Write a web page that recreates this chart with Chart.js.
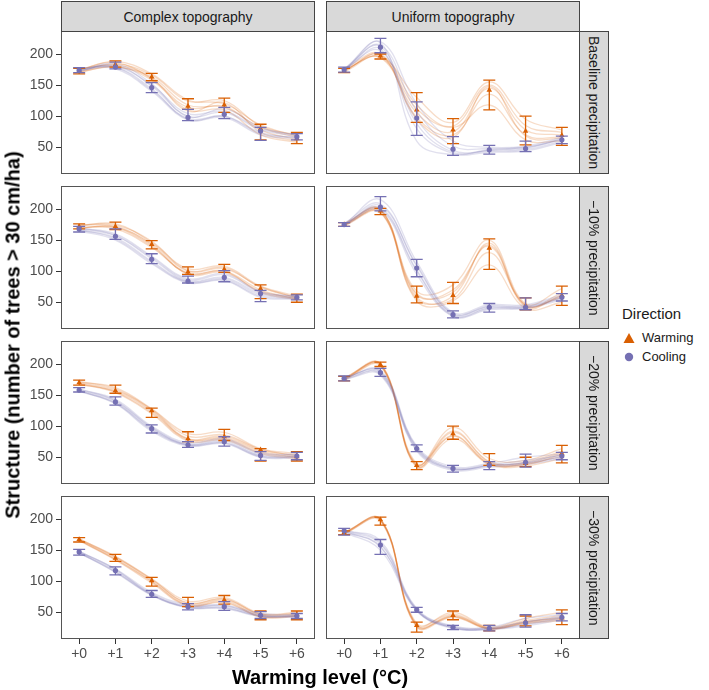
<!DOCTYPE html>
<html>
<head>
<meta charset="utf-8">
<script src="https://cdn.jsdelivr.net/npm/chart.js@4.4.0/dist/chart.umd.min.js"></script>
<style>
  body { margin: 0; background: #fff; font-family: "Liberation Sans", Arial, sans-serif; }
  #wrap { position: relative; width: 709px; height: 690px; overflow: hidden; }
  canvas { position: absolute; }
  .strip { position: absolute; background: #d9d9d9; border: 1px solid #444; box-sizing: border-box;
           color: #1a1a1a; font-size: 14px; display: flex; align-items: center; justify-content: center; }
  .side { writing-mode: vertical-rl; }
  .title { position: absolute; font-weight: bold; font-size: 20px; color: #000; white-space: nowrap; }
  #ytitle { left: 13px; top: 335px; transform: translate(-50%, -50%) rotate(-90deg); }
  #xtitle { left: 320px; top: 677px; transform: translate(-50%, -50%); }
  #legend { position: absolute; left: 622px; top: 305px; color: #1a1a1a; }
  #legend .lt { font-size: 15px; margin-bottom: 6px; }
  #legend .li { display: flex; align-items: center; font-size: 13px; height: 19px; }
  #legend svg { margin-right: 6px; }
</style>
</head>
<body>
<div id="wrap"></div>
<script>
// axes
const xValues = [0, 1, 2, 3, 4, 5, 6];
const xLabels = ['+0', '+1', '+2', '+3', '+4', '+5', '+6'];
const yTicks = [50, 100, 150, 200];
const topographies = ['Complex topography', 'Uniform topography'];
const precipLabels = ['Baseline precipitation', '\u221210% precipitation', '\u221220% precipitation', '\u221230% precipitation'];

// Complex topography, baseline precipitation
const complexBaseWarm = [173, 183, 163, 116, 118, 80, 64];
const complexBaseWarmLo = [168, 179, 157, 111, 106, 62, 56];
const complexBaseWarmHi = [177, 189, 169, 128, 129, 87, 74];
const complexBaseCool = [174, 179, 146, 98, 103, 76, 67];
const complexBaseCoolLo = [170, 176, 138, 93, 96, 61, 62];
const complexBaseCoolHi = [178, 187, 154, 111, 114, 82, 72];
const complexBaseWarmReps = [
  [172, 184, 166, 124, 125, 84, 70],
  [175, 186, 160, 114, 116, 78, 62],
  [170, 180, 158, 110, 110, 70, 58],
  [174, 188, 168, 126, 120, 86, 68],
  [176, 182, 163, 118, 114, 82, 66],
  [171, 179, 161, 108, 122, 74, 60]
];
const complexBaseCoolReps = [
  [174, 180, 150, 104, 108, 80, 70],
  [176, 178, 142, 96, 100, 72, 66],
  [172, 182, 148, 100, 106, 78, 68],
  [175, 176, 140, 94, 98, 70, 64],
  [173, 184, 152, 99, 112, 82, 69],
  [177, 179, 144, 95, 100, 74, 65]
];

// Uniform topography, baseline precipitation
const uniformBaseWarm = [173, 197, 110, 78, 142, 76, 69];
const uniformBaseWarmLo = [170, 192, 90, 56, 110, 54, 53];
const uniformBaseWarmHi = [177, 200, 138, 96, 158, 100, 82];
const uniformBaseCool = [175, 211, 97, 47, 46, 48, 62];
const uniformBaseCoolLo = [171, 202, 69, 37, 39, 43, 56];
const uniformBaseCoolHi = [179, 225, 123, 67, 53, 60, 68];
const uniformBaseWarmReps = [
  [174, 196, 130, 90, 155, 95, 78],
  [172, 199, 118, 84, 150, 85, 74],
  [175, 194, 105, 75, 145, 78, 70],
  [173, 198, 98, 70, 135, 70, 66],
  [171, 195, 112, 82, 118, 62, 60],
  [176, 200, 95, 66, 148, 68, 64]
];
const uniformBaseCoolReps = [
  [175, 220, 120, 60, 50, 52, 66],
  [174, 214, 108, 52, 48, 50, 64],
  [176, 205, 95, 45, 44, 46, 60],
  [173, 208, 80, 40, 42, 44, 58],
  [177, 212, 88, 42, 46, 50, 62],
  [174, 218, 60, 38, 45, 48, 63]
];

// Complex topography, -10% precipitation
const complex10Warm = [172, 172, 143, 99, 103, 72, 57];
const complex10WarmLo = [168, 167, 136, 95, 98, 56, 50];
const complex10WarmHi = [176, 179, 149, 107, 111, 78, 63];
const complex10Cool = [168, 156, 119, 84, 90, 64, 58];
const complex10CoolLo = [163, 151, 112, 81, 83, 51, 54];
const complex10CoolHi = [172, 168, 128, 92, 101, 69, 62];
const complex10WarmReps = [
  [173, 176, 146, 104, 108, 76, 60],
  [170, 170, 140, 96, 100, 70, 55],
  [175, 174, 148, 101, 106, 74, 58],
  [171, 168, 138, 97, 100, 66, 54],
  [174, 172, 144, 100, 104, 75, 57],
  [169, 171, 142, 95, 98, 68, 56]
];
const complex10CoolReps = [
  [169, 160, 124, 88, 96, 67, 60],
  [167, 152, 114, 82, 86, 60, 56],
  [170, 158, 122, 86, 94, 66, 59],
  [166, 154, 116, 83, 88, 62, 57],
  [168, 157, 120, 84, 90, 64, 58],
  [165, 150, 112, 81, 85, 58, 55]
];

// Uniform topography, -10% precipitation
const uniform10Warm = [175, 197, 60, 61, 137, 44, 61];
const uniform10WarmLo = [172, 191, 49, 48, 103, 38, 45];
const uniform10WarmHi = [178, 201, 76, 82, 152, 57, 76];
const uniform10Cool = [175, 203, 105, 30, 42, 42, 58];
const uniform10CoolLo = [172, 197, 91, 25, 34, 38, 52];
const uniform10CoolHi = [178, 220, 119, 36, 48, 57, 64];
const uniform10WarmReps = [
  [175, 198, 68, 78, 150, 48, 72],
  [174, 196, 55, 60, 145, 44, 65],
  [176, 199, 62, 70, 140, 42, 62],
  [173, 194, 58, 55, 130, 46, 58],
  [177, 200, 52, 52, 110, 40, 50],
  [175, 195, 64, 66, 142, 45, 60]
];
const uniform10CoolReps = [
  [175, 215, 115, 34, 46, 46, 62],
  [174, 205, 110, 31, 44, 44, 60],
  [176, 200, 100, 28, 40, 42, 56],
  [173, 198, 95, 27, 38, 40, 54],
  [177, 208, 108, 32, 43, 43, 58],
  [175, 202, 102, 29, 41, 41, 57]
];

// Complex topography, -20% precipitation
const complex20Warm = [170, 157, 125, 80, 83, 62, 51];
const complex20WarmLo = [166, 153, 114, 75, 77, 44, 44];
const complex20WarmHi = [174, 166, 129, 91, 95, 64, 59];
const complex20Cool = [158, 139, 96, 70, 75, 53, 52];
const complex20CoolLo = [155, 134, 89, 66, 68, 45, 46];
const complex20CoolHi = [162, 147, 102, 75, 83, 59, 58];
const complex20WarmReps = [
  [171, 162, 128, 88, 90, 64, 56],
  [169, 155, 122, 78, 80, 58, 49],
  [172, 160, 127, 84, 86, 63, 52],
  [168, 154, 120, 76, 78, 56, 47],
  [170, 158, 126, 80, 84, 62, 53],
  [167, 156, 124, 79, 82, 60, 50]
];
const complex20CoolReps = [
  [159, 143, 100, 73, 80, 57, 55],
  [157, 136, 92, 68, 72, 50, 49],
  [160, 141, 98, 71, 78, 55, 54],
  [156, 137, 94, 69, 73, 51, 50],
  [158, 140, 97, 70, 76, 53, 52],
  [157, 138, 95, 70, 74, 52, 51]
];

// Uniform topography, -20% precipitation
const uniform20Warm = [176, 199, 37, 88, 41, 40, 56];
const uniform20WarmLo = [173, 196, 30, 79, 37, 35, 41];
const uniform20WarmHi = [180, 203, 43, 100, 56, 50, 69];
const uniform20Cool = [177, 186, 64, 32, 37, 42, 52];
const uniform20CoolLo = [173, 180, 59, 26, 30, 34, 46];
const uniform20CoolHi = [181, 193, 70, 37, 43, 55, 58];
const uniform20WarmReps = [
  [176, 200, 38, 98, 48, 45, 64],
  [175, 198, 35, 90, 42, 40, 58],
  [177, 201, 40, 85, 40, 38, 55],
  [174, 197, 34, 80, 38, 36, 48],
  [178, 199, 38, 92, 43, 42, 60],
  [176, 200, 36, 84, 39, 39, 52]
];
const uniform20CoolReps = [
  [177, 190, 68, 35, 40, 50, 55],
  [176, 184, 62, 31, 36, 40, 50],
  [178, 188, 66, 33, 38, 45, 53],
  [175, 182, 60, 29, 34, 38, 48],
  [179, 187, 65, 32, 37, 42, 54],
  [177, 185, 63, 31, 36, 41, 51]
];

// Complex topography, -30% precipitation
const complex30Warm = [167, 137, 101, 63, 70, 45, 46];
const complex30WarmLo = [163, 132, 92, 59, 63, 38, 38];
const complex30WarmHi = [170, 143, 106, 74, 77, 52, 52];
const complex30Cool = [147, 117, 79, 59, 59, 45, 44];
const complex30CoolLo = [142, 110, 74, 54, 53, 40, 40];
const complex30CoolHi = [151, 123, 85, 64, 67, 51, 48];
const complex30WarmReps = [
  [168, 140, 104, 68, 74, 48, 50],
  [166, 135, 99, 61, 67, 43, 44],
  [167, 138, 102, 65, 72, 46, 47],
  [165, 134, 97, 60, 66, 42, 43],
  [168, 139, 103, 64, 71, 47, 48],
  [166, 136, 100, 62, 69, 44, 45]
];
const complex30CoolReps = [
  [148, 120, 82, 62, 62, 48, 46],
  [146, 114, 77, 57, 56, 43, 42],
  [147, 118, 80, 60, 60, 46, 45],
  [145, 115, 78, 58, 57, 44, 43],
  [148, 119, 79, 59, 61, 45, 44],
  [146, 116, 78, 58, 58, 44, 44]
];

// Uniform topography, -30% precipitation
const uniform30Warm = [178, 199, 29, 45, 24, 35, 41];
const uniform30WarmLo = [175, 190, 18, 38, 20, 28, 30];
const uniform30WarmHi = [181, 203, 34, 52, 29, 44, 54];
const uniform30Cool = [181, 158, 54, 26, 24, 33, 42];
const uniform30CoolLo = [174, 143, 50, 22, 20, 26, 36];
const uniform30CoolHi = [185, 167, 58, 29, 29, 46, 48];
const uniform30WarmReps = [
  [178, 200, 30, 50, 26, 40, 50],
  [177, 198, 27, 44, 24, 34, 42],
  [179, 199, 32, 47, 25, 37, 45],
  [176, 197, 26, 42, 23, 32, 36],
  [178, 200, 29, 45, 24, 35, 40],
  [177, 199, 28, 43, 23, 33, 38]
];
const uniform30CoolReps = [
  [182, 165, 56, 28, 26, 40, 46],
  [180, 155, 53, 25, 23, 30, 40],
  [181, 160, 55, 27, 25, 35, 44],
  [179, 150, 52, 24, 22, 28, 38],
  [182, 162, 54, 26, 24, 34, 42],
  [180, 156, 53, 25, 23, 31, 41]
];

const panels = [
  { row: 0, col: 0, warm: [complexBaseWarm, complexBaseWarmLo, complexBaseWarmHi, complexBaseWarmReps], cool: [complexBaseCool, complexBaseCoolLo, complexBaseCoolHi, complexBaseCoolReps] },
  { row: 0, col: 1, warm: [uniformBaseWarm, uniformBaseWarmLo, uniformBaseWarmHi, uniformBaseWarmReps], cool: [uniformBaseCool, uniformBaseCoolLo, uniformBaseCoolHi, uniformBaseCoolReps] },
  { row: 1, col: 0, warm: [complex10Warm, complex10WarmLo, complex10WarmHi, complex10WarmReps], cool: [complex10Cool, complex10CoolLo, complex10CoolHi, complex10CoolReps] },
  { row: 1, col: 1, warm: [uniform10Warm, uniform10WarmLo, uniform10WarmHi, uniform10WarmReps], cool: [uniform10Cool, uniform10CoolLo, uniform10CoolHi, uniform10CoolReps] },
  { row: 2, col: 0, warm: [complex20Warm, complex20WarmLo, complex20WarmHi, complex20WarmReps], cool: [complex20Cool, complex20CoolLo, complex20CoolHi, complex20CoolReps] },
  { row: 2, col: 1, warm: [uniform20Warm, uniform20WarmLo, uniform20WarmHi, uniform20WarmReps], cool: [uniform20Cool, uniform20CoolLo, uniform20CoolHi, uniform20CoolReps] },
  { row: 3, col: 0, warm: [complex30Warm, complex30WarmLo, complex30WarmHi, complex30WarmReps], cool: [complex30Cool, complex30CoolLo, complex30CoolHi, complex30CoolReps] },
  { row: 3, col: 1, warm: [uniform30Warm, uniform30WarmLo, uniform30WarmHi, uniform30WarmReps], cool: [uniform30Cool, uniform30CoolLo, uniform30CoolHi, uniform30CoolReps] }
];

const warmColor = '#D95F02';
const coolColor = '#7570B3';
const warmFaint = 'rgba(217, 95, 2, 0.22)';
const coolFaint = 'rgba(117, 112, 179, 0.22)';
const fontFamily = '"Liberation Sans", Arial, sans-serif';

// layout of the facet grid (pixels)
const colLeft = [61, 326];
const rowTop = [31, 186, 341, 496];
const panelW = 254, panelH = 143;
const yAxisW = 41, xAxisH = 28;

const wrap = document.getElementById('wrap');

function toPoints(values) {
  return values.map((v, i) => ({ x: xValues[i], y: v }));
}

// error bars drawn right before the mean points of their dataset
const errorBars = {
  id: 'errorBars',
  beforeDatasetDraw(chart, args) {
    const ds = chart.data.datasets[args.index];
    if (!ds.errLo) return;
    const { ctx } = chart;
    const x = chart.scales.x, y = chart.scales.y;
    ctx.save();
    ctx.strokeStyle = ds.borderColor;
    ctx.lineWidth = 1.3;
    ds.data.forEach((p, j) => {
      const px = x.getPixelForValue(p.x);
      const lo = y.getPixelForValue(ds.errLo[j]);
      const hi = y.getPixelForValue(ds.errHi[j]);
      ctx.beginPath();
      ctx.moveTo(px, lo); ctx.lineTo(px, hi);
      ctx.moveTo(px - 6, lo); ctx.lineTo(px + 6, lo);
      ctx.moveTo(px - 6, hi); ctx.lineTo(px + 6, hi);
      ctx.stroke();
    });
    ctx.restore();
  }
};

const panelBorder = {
  id: 'panelBorder',
  afterDraw(chart) {
    const { ctx, chartArea: a } = chart;
    ctx.save();
    ctx.strokeStyle = '#555';
    ctx.lineWidth = 1;
    ctx.strokeRect(a.left + 0.5, a.top + 0.5, a.right - a.left - 1, a.bottom - a.top - 1);
    ctx.restore();
  }
};

function makeChart(p) {
  const showY = p.col === 0, showX = p.row === 3;
  const canvas = document.createElement('canvas');
  const left = showY ? colLeft[0] - yAxisW : colLeft[1];
  const w = panelW + (showY ? yAxisW : 0);
  const h = panelH + (showX ? xAxisH : 0);
  canvas.width = w; canvas.height = h;
  canvas.style.left = left + 'px';
  canvas.style.top = rowTop[p.row] + 'px';
  wrap.appendChild(canvas);

  const datasets = [];
  p.warm[3].forEach(r => datasets.push({
    data: toPoints(r), showLine: true, tension: 0.4, borderColor: warmFaint,
    borderWidth: 1.3, pointRadius: 0, order: 4
  }));
  p.cool[3].forEach(r => datasets.push({
    data: toPoints(r), showLine: true, tension: 0.4, borderColor: coolFaint,
    borderWidth: 1.3, pointRadius: 0, order: 3
  }));
  datasets.push({
    data: toPoints(p.warm[0]), errLo: p.warm[1], errHi: p.warm[2], showLine: false,
    borderColor: warmColor, backgroundColor: warmColor, pointStyle: 'triangle',
    pointRadius: 3.2, borderWidth: 0, order: 2
  });
  datasets.push({
    data: toPoints(p.cool[0]), errLo: p.cool[1], errHi: p.cool[2], showLine: false,
    borderColor: coolColor, backgroundColor: coolColor, pointStyle: 'circle',
    pointRadius: 2.6, borderWidth: 0, order: 1
  });

  const tickFont = { size: 14, family: fontFamily };
  new Chart(canvas, {
    type: 'scatter',
    data: { datasets },
    options: {
      responsive: false,
      animation: false,
      layout: { padding: 0, autoPadding: false },
      plugins: { legend: { display: false }, tooltip: { enabled: false } },
      scales: {
        x: {
          type: 'linear', min: -0.5, max: 6.5, display: showX,
          afterBuildTicks: s => { s.ticks = xValues.map(v => ({ value: v })); },
          afterFit: s => {
            s.height = showX ? xAxisH : 0;
            s.paddingLeft = 0; s.paddingRight = 0; s.paddingTop = 0; s.paddingBottom = 0;
          },
          grid: { drawOnChartArea: false, drawTicks: true, tickLength: 5, color: '#333' },
          border: { display: false },
          ticks: { color: '#4d4d4d', font: tickFont, padding: 2, maxRotation: 0, autoSkip: false,
                   callback: v => xLabels[xValues.indexOf(v)] }
        },
        y: {
          type: 'linear', min: 7, max: 237, display: showY,
          afterBuildTicks: s => { s.ticks = yTicks.map(v => ({ value: v })); },
          afterFit: s => {
            s.width = showY ? yAxisW : 0;
            s.paddingTop = 0; s.paddingBottom = 0; s.paddingLeft = 0; s.paddingRight = 0;
          },
          grid: { drawOnChartArea: false, drawTicks: true, tickLength: 5, color: '#333' },
          border: { display: false },
          ticks: { color: '#4d4d4d', font: tickFont, padding: 3 }
        }
      }
    },
    plugins: [errorBars, panelBorder]
  });
}

panels.forEach(makeChart);

// facet strips
topographies.forEach((t, c) => {
  const d = document.createElement('div');
  d.className = 'strip';
  d.style.left = colLeft[c] + 'px';
  d.style.top = '1px';
  d.style.width = panelW + 'px';
  d.style.height = '31px';
  d.textContent = t;
  wrap.appendChild(d);
});
precipLabels.forEach((t, r) => {
  const d = document.createElement('div');
  d.className = 'strip side';
  d.style.left = (colLeft[1] + panelW - 1) + 'px';
  d.style.top = rowTop[r] + 'px';
  d.style.width = '30px';
  d.style.height = panelH + 'px';
  d.textContent = t;
  wrap.appendChild(d);
});

// axis titles
const yt = document.createElement('div');
yt.className = 'title'; yt.id = 'ytitle';
yt.textContent = 'Structure (number of trees > 30 cm/ha)';
wrap.appendChild(yt);
const xt = document.createElement('div');
xt.className = 'title'; xt.id = 'xtitle';
xt.textContent = 'Warming level (\u00B0C)';
wrap.appendChild(xt);

// legend
const legend = document.createElement('div');
legend.id = 'legend';
legend.innerHTML =
  '<div class="lt">Direction</div>' +
  '<div class="li"><svg width="14" height="14"><polygon points="7,2 12.5,12 1.5,12" fill="' + warmColor + '"/></svg><span>Warming</span></div>' +
  '<div class="li"><svg width="14" height="14"><circle cx="7" cy="7" r="4.2" fill="' + coolColor + '"/></svg><span>Cooling</span></div>';
wrap.appendChild(legend);
</script>
</body>
</html>
